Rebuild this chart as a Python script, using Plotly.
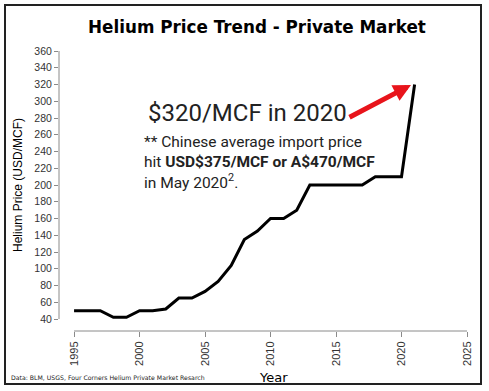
import plotly.graph_objects as go

years = list(range(1995, 2022))
prices = [50, 50, 50, 42, 42, 50, 50, 52, 65, 65, 73, 85, 104, 135, 145, 160, 160, 170,
          200, 200, 200, 200, 200, 210, 210, 210, 320]
y_ticks = list(range(40, 361, 20))
x_ticks = list(range(1995, 2026, 5))

W, H = 489, 391
L, R, T, B = 59, 22, 51, 60
PW, PH = W - L - R, H - T - B

def px(x):
    return (x - L) / PW

def py(y):
    return (H - B - y) / PH

fig = go.Figure()
fig.add_trace(go.Scatter(x=years, y=prices, mode="lines",
                         line=dict(color="black", width=3), showlegend=False))

axis_col = "#8a8a8a"
fig.update_layout(
    width=W, height=H, margin=dict(l=L, r=R, t=T, b=B),
    plot_bgcolor="white", paper_bgcolor="white",
    xaxis=dict(range=[1993.85, 2025], tickvals=x_ticks, tickangle=-90,
               showgrid=False, zeroline=False, showline=False,
               ticks="outside", ticklen=5, tickcolor=axis_col,
               tickfont=dict(family="Liberation Sans", size=11, color="#333")),
    yaxis=dict(range=[25.7, 360], tickvals=y_ticks, showgrid=False, zeroline=False,
               showline=False, ticks="outside", ticklen=4, tickcolor=axis_col,
               tickfont=dict(family="Liberation Sans", size=10.5, color="#333")),
)

# axis lines (offset style)
fig.add_shape(type="line", xref="x", yref="paper", x0=1995, x1=2025, y0=0, y1=0,
              line=dict(color=axis_col, width=1))
fig.add_shape(type="line", xref="paper", yref="y", x0=0, x1=0, y0=40, y1=360,
              line=dict(color=axis_col, width=1))
# outer border
fig.add_shape(type="rect", xref="paper", yref="paper",
              x0=px(5), x1=px(481), y0=py(384), y1=py(5),
              line=dict(color="#222", width=2))

ann = []
ann.append(dict(text="<b>Helium Price Trend - Private Market</b>", x=px(257), y=py(27),
                font=dict(family="DejaVu Sans", size=16.8, color="black")))
ann.append(dict(text="Helium Price (USD/MCF)", x=px(18), y=py(185), textangle=-90,
                font=dict(family="Liberation Sans", size=12, color="black")))
ann.append(dict(text="Year", x=px(273), y=py(377),
                font=dict(family="DejaVu Sans", size=13, color="black")))
ann.append(dict(text="Data: BLM, USGS, Four Corners Helium Private Market Resarch",
                x=px(9), y=py(377), xanchor="left",
                font=dict(family="DejaVu Sans", size=6.2, color="#222")))
ann.append(dict(text="$320/MCF in 2020", x=px(146), y=py(113), xanchor="left",
                font=dict(family="Roboto", size=24, color="#222")))
ann.append(dict(text="** Chinese average import price", x=px(142), y=py(142), xanchor="left",
                font=dict(family="Roboto", size=15.5, color="#222")))
ann.append(dict(text="hit <b>USD$375/MCF or A$470/MCF</b>", x=px(142), y=py(162), xanchor="left",
                font=dict(family="Roboto", size=15.5, color="#222")))
ann.append(dict(text="in May 2020<sup>2</sup>.", x=px(142), y=py(181), xanchor="left",
                font=dict(family="Roboto", size=15.5, color="#222")))
for a in ann:
    a.setdefault("xanchor", "center")
    a.update(xref="paper", yref="paper", yanchor="middle", showarrow=False)
    fig.add_annotation(**a)

fig.add_annotation(x=px(411), y=py(85), xref="paper", yref="paper", text="",
                   showarrow=True, ax=348 - 411, ay=118 - 85, axref="pixel", ayref="pixel",
                   arrowcolor="#e8141b", arrowwidth=5, arrowhead=2, arrowsize=0.7, standoff=0)

fig.write_html("out.html", config={"displayModeBar": False},
               post_script="document.body.style.margin='0';")
